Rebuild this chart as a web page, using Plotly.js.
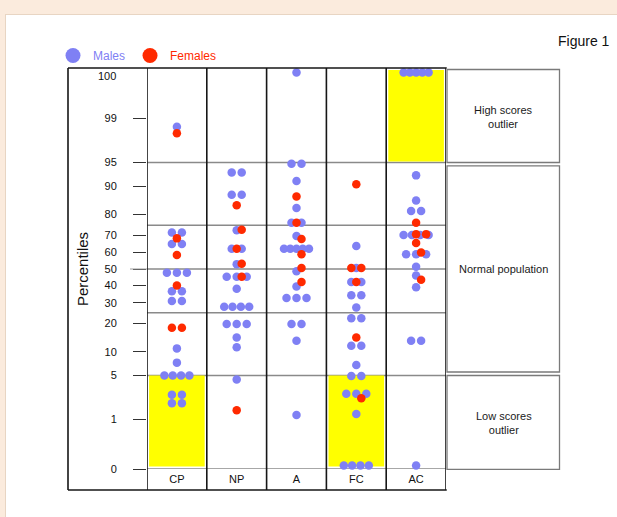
<!DOCTYPE html>
<html><head><meta charset="utf-8">
<script src="https://cdn.plot.ly/plotly-3.0.1.min.js"></script>
<style>
html,body{margin:0;padding:0;background:#fbebdd;width:617px;height:517px;overflow:hidden;}
#panel{position:absolute;left:5px;top:14px;width:640px;height:540px;background:#ffffff;border:1px solid #e8d5c3;}
#chart{position:absolute;left:0;top:0;width:617px;height:517px;}
</style></head><body>
<div id="panel"></div><div id="chart"></div>
<script>
// ---------------- data ----------------
const categories = ['CP', 'NP', 'A', 'FC', 'AC'];

const malesCP   = [98.6, 71.4, 71.4, 65, 65, 47.7, 47.7, 47.7, 36.5, 36.5, 31, 31, 11, 7.4, 5, 5, 5, 5, 2.6, 2.6, 1.9, 1.9];
const femalesCP = [98.2, 68.2, 58.5, 40, 18.2, 18.2];

const malesNP   = [93.2, 93.2, 87.4, 87.4, 72.5, 62.3, 62.3, 53, 45.3, 45.3, 45.3, 38, 28, 28, 28, 28, 19.8, 19.8, 19.8, 14.5, 11.3, 4.4];
const femalesNP = [83.8, 72.8, 62.3, 53.3, 45.3, 1.46];

const malesA    = [100, 94.8, 94.8, 91.3, 82.7, 76.3, 76.3, 69.5, 62.3, 62.3, 62.3, 62.3, 62.3, 48.6, 39.3, 32.7, 32.7, 32.7, 19.8, 19.8, 13.4, 1.2];
const femalesA  = [86.9, 76.3, 67.8, 59, 50.6, 42];

const malesFC   = [63.9, 50.6, 42, 42, 34.2, 34.2, 27.6, 22.3, 22.3, 11.8, 11.8, 6.9, 4.9, 4.9, 2.7, 2.7, 2.7, 1.25, 0, 0, 0, 0];
const femalesFC = [90.5, 50.6, 50.6, 42, 14.5, 2.3];

const malesAC   = [100, 100, 100, 100, 100, 92.6, 85.5, 81.5, 81.5, 70, 70, 70, 70, 59, 59, 59, 51.4, 46, 38.9, 13.4, 13.4, 0];
const femalesAC = [76.3, 70.5, 70.5, 65.6, 60, 43.4];

const tickPercentiles = [99, 95, 90, 80, 70, 60, 50, 40, 30, 20, 10, 5, 1, 0];
const tickLabels      = ['99', '95', '90', '80', '70', '60', '50', '40', '30', '20', '10', '5', '1', '0'];
const topTickLabel    = '100';
const quartileLines   = [95, 75, 50, 25, 5];
const bandLabels      = ['High scores<br>outlier', 'Normal population', 'Low scores<br>outlier'];
const highlightCats   = ['CP', 'FC', 'AC'];
const highlightBands  = ['low', 'low', 'high'];
const seriesNames     = ['Males', 'Females'];

// ---------------- scale helpers ----------------
function probit(p) {
  const a=[-3.969683028665376e+01,2.209460984245205e+02,-2.759285104469687e+02,1.383577518672690e+02,-3.066479806614716e+01,2.506628277459239e+00];
  const b=[-5.447609879822406e+01,1.615858368580409e+02,-1.556989798598866e+02,6.680131188771972e+01,-1.328068155288572e+01];
  const c=[-7.784894002430293e-03,-3.223964580411365e-01,-2.400758277161838e+00,-2.549732539343734e+00,4.374664141464968e+00,2.938163982698783e+00];
  const d=[7.784695709041462e-03,3.224671290700398e-01,2.445134137142996e+00,3.754408661907416e+00];
  const plow=0.02425, phigh=1-plow; let q, r;
  if (p < plow) { q=Math.sqrt(-2*Math.log(p)); return (((((c[0]*q+c[1])*q+c[2])*q+c[3])*q+c[4])*q+c[5])/((((d[0]*q+d[1])*q+d[2])*q+d[3])*q+1); }
  if (p > phigh) { q=Math.sqrt(-2*Math.log(1-p)); return -(((((c[0]*q+c[1])*q+c[2])*q+c[3])*q+c[4])*q+c[5])/((((d[0]*q+d[1])*q+d[2])*q+d[3])*q+1); }
  q=p-0.5; r=q*q; return (((((a[0]*r+a[1])*r+a[2])*r+a[3])*r+a[4])*r+a[5])*q/(((((b[0]*r+b[1])*r+b[2])*r+b[3])*r+b[4])*r+1);
}
// axis positions: percentile -> normal quantile (probability scale); 0 / 100 sit at the ends
function axisZ(p) { return probit(Math.min(Math.max(p, 0.1), 99.9) / 100); }
// dots at 0 / 100 are inset slightly so they sit inside the frame
function dotZ(p) { return probit(Math.min(Math.max(p, 0.12), 99.88) / 100); }

const W = 617, H = 517, L = 147, R = 446, T = 69, B = 469;
const Y_MIN = axisZ(0), Y_MAX = axisZ(100);
const pxPerZ = (B - T) / (Y_MAX - Y_MIN);
const pxPerX = (R - L) / categories.length;
const PX = x => (x - L) / (R - L);
const PY = y => (B - y) / (B - T);

// beeswarm layout: rows of near-equal values are spread horizontally
function swarm(ci, males, females) {
  const pts = males.map(v => ({v, s: 'm'})).concat(females.map(v => ({v, s: 'f'})));
  pts.forEach(p => { p.z = dotZ(p.v); p.py = p.z * pxPerZ; p.dx = 0; });
  pts.sort((a, b) => b.py - a.py);
  const rows = []; let cur = null;
  pts.forEach(p => {
    if (!cur || cur.start - p.py >= 6) { cur = {start: p.py, pts: []}; rows.push(cur); }
    cur.pts.push(p);
  });
  const place = arr => { const n = arr.length; const sp = n > 1 ? Math.min(10, 25 / (n - 1)) : 0;
    arr.forEach((p, k) => p.dx = (k - (n - 1) / 2) * sp); };
  rows.forEach(r => {
    const m = r.pts.filter(p => p.s === 'm'), f = r.pts.filter(p => p.s === 'f');
    place(m); place(f);
    if (f.some(a => m.some(b => Math.abs(a.dx - b.dx) < 1))) f.forEach(p => p.dx += 5);
  });
  return pts.map(p => ({x: ci + p.dx / pxPerX, y: p.z, v: p.v, s: p.s}));
}

const groups = [[malesCP, femalesCP], [malesNP, femalesNP], [malesA, femalesA], [malesFC, femalesFC], [malesAC, femalesAC]];
const M = {x: [], y: [], t: []}, F = {x: [], y: [], t: []};
groups.forEach((g, i) => {
  swarm(i, g[0], g[1]).forEach(p => {
    const o = p.s === 'm' ? M : F;
    o.x.push(p.x); o.y.push(p.y); o.t.push(categories[i] + ': ' + p.v);
  });
});

const BLUE = '#7f80f4', RED = '#ff2a00';
const FONT = 'Liberation Sans, Arial, Helvetica, sans-serif';

const traces = [
  {type: 'scatter', mode: 'markers', x: M.x, y: M.y, text: M.t, hoverinfo: 'text', cliponaxis: false,
   marker: {color: BLUE, size: 8.5}, showlegend: false, legendgroup: 'm', name: seriesNames[0]},
  {type: 'scatter', mode: 'markers', x: F.x, y: F.y, text: F.t, hoverinfo: 'text', cliponaxis: false,
   marker: {color: RED, size: 8.5}, showlegend: false, legendgroup: 'f', name: seriesNames[1]},
  {type: 'scatter', mode: 'markers', x: [null], y: [null], marker: {color: BLUE, size: 15},
   legendgroup: 'm', name: '<span style="color:' + BLUE + '">' + seriesNames[0] + '</span>'},
  {type: 'scatter', mode: 'markers', x: [null], y: [null], marker: {color: RED, size: 15},
   legendgroup: 'f', name: '<span style="color:' + RED + '">' + seriesNames[1] + '</span>'}
];

const shapes = [];
const BLACK = '#161616', GRAY = '#8a8a8a';
// yellow outlier highlights
highlightCats.forEach((c, k) => {
  const i = categories.indexOf(c);
  const band = highlightBands[k];
  const y0 = band === 'low' ? Y_MIN + 2.5 / pxPerZ : axisZ(95) + 1 / pxPerZ;
  const y1 = band === 'low' ? axisZ(5) : Y_MAX - 1 / pxPerZ;
  shapes.push({type: 'rect', layer: 'below', xref: 'x', yref: 'y', x0: i - 0.465, x1: i + 0.465, y0, y1,
    fillcolor: '#ffff00', line: {width: 0}});
});
// quartile / band lines
quartileLines.concat([0]).forEach(p => shapes.push({type: 'line', layer: 'below', xref: 'paper', yref: 'y',
  x0: 0, x1: 1, y0: axisZ(p), y1: axisZ(p), line: {color: GRAY, width: 1.5}}));
// longer tick at the median
shapes.push({type: 'line', xref: 'paper', yref: 'y', x0: PX(130), x1: 0, y0: axisZ(50), y1: axisZ(50),
  line: {color: '#9a9a9a', width: 1}});
// column separators
for (let i = 0; i <= categories.length; i++) {
  shapes.push({type: 'line', xref: 'x', yref: 'paper', x0: i - 0.5, x1: i - 0.5, y0: PY(490), y1: PY(68),
    line: {color: BLACK, width: 1.6}});
}
// outer frame
shapes.push({type: 'line', xref: 'paper', yref: 'paper', x0: PX(68), x1: 1.0025, y0: PY(68), y1: PY(68), line: {color: BLACK, width: 1.6}});
shapes.push({type: 'line', xref: 'paper', yref: 'paper', x0: PX(68), x1: 1.0025, y0: PY(490), y1: PY(490), line: {color: BLACK, width: 1.6}});
shapes.push({type: 'line', xref: 'paper', yref: 'paper', x0: PX(68), x1: PX(68), y0: PY(490), y1: PY(68), line: {color: BLACK, width: 1.6}});
// right band boxes
const bandBoxes = [[69.5, 162.5], [165.8, 372], [375.5, 469.3]];
bandBoxes.forEach(b => shapes.push({type: 'rect', xref: 'paper', yref: 'paper', x0: PX(447), x1: PX(559.5),
  y0: PY(b[1]), y1: PY(b[0]), line: {color: '#7a7a7a', width: 1.3}}));

const annotations = [];
const bandCentres = [117, 269, 423];
bandLabels.forEach((t, k) => annotations.push({xref: 'paper', yref: 'paper', x: PX(503.5), y: PY(bandCentres[k]),
  text: t, showarrow: false, font: {size: 11, color: '#1a1a1a', family: FONT}, xanchor: 'center', yanchor: 'middle'}));
annotations.push({xref: 'paper', yref: 'paper', x: PX(117.5), y: PY(76), text: topTickLabel, showarrow: false,
  xanchor: 'right', yanchor: 'middle', font: {size: 11, color: '#111', family: FONT}});
annotations.push({xref: 'paper', yref: 'paper', x: PX(611.5), y: PY(40.7), text: 'Figure 1', showarrow: false,
  xanchor: 'right', yanchor: 'middle', font: {size: 14, color: '#111', family: FONT}});

const layout = {
  width: W, height: H,
  margin: {l: L, r: W - R, t: T, b: H - B, pad: 0},
  paper_bgcolor: 'rgba(0,0,0,0)', plot_bgcolor: 'rgba(0,0,0,0)',
  font: {family: FONT, color: '#111', size: 11},
  showlegend: true,
  legend: {orientation: 'h', x: PX(53), y: PY(41), xanchor: 'left', yanchor: 'top',
    font: {size: 12, family: FONT}, bgcolor: 'rgba(0,0,0,0)', itemsizing: 'trace', tracegroupgap: 0},
  xaxis: {range: [-0.5, categories.length - 0.5], tickvals: categories.map((c, i) => i), ticktext: categories,
    showgrid: false, zeroline: false, showline: false, ticks: '', fixedrange: true,
    tickfont: {size: 11, color: '#111', family: FONT}, ticklabelstandoff: 2},
  yaxis: {range: [Y_MIN, Y_MAX], tickvals: tickPercentiles.map(axisZ), ticktext: tickLabels,
    showgrid: false, zeroline: false, showline: false, ticks: 'outside', ticklen: 13, tickwidth: 1, tickcolor: '#333',
    tickfont: {size: 11, color: '#111', family: FONT}, ticklabelstandoff: 14, fixedrange: true,
    title: {text: 'Percentiles', font: {size: 15, color: '#111', family: FONT}, standoff: 12}},
  shapes, annotations
};

Plotly.newPlot('chart', traces, layout, {displayModeBar: false, staticPlot: false});
</script>
</body></html>
